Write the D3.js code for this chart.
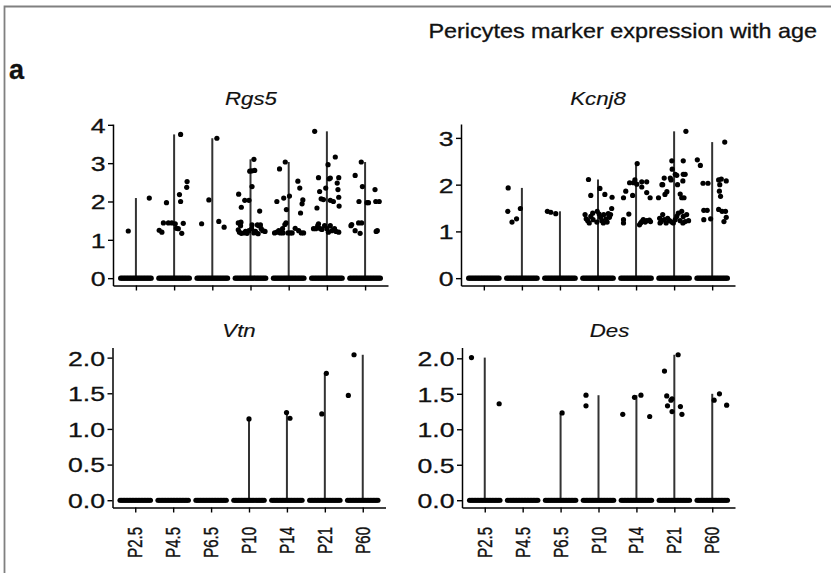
<!DOCTYPE html>
<html>
<head>
<meta charset="utf-8">
<script src="https://cdn.jsdelivr.net/npm/d3@7"></script>
<style>
  body { margin: 0; background: #fff; }
  svg { display: block; font-family: "Liberation Sans", Arial, sans-serif; }
  text { stroke: #111; stroke-width: 0.3px; fill: #111; }
</style>
</head>
<body>
<svg width="831" height="573"></svg>
<script>
// age groups on the x axis
var ages = ["P2.5", "P4.5", "P6.5", "P10", "P14", "P21", "P60"];
var genes = ["Rgs5", "Kcnj8", "Vtn", "Des"];

var ticksRgs5 = [0, 1, 2, 3, 4];
var ticksKcnj8 = [0, 1, 2, 3];
var ticksVtn = [0, 0.5, 1, 1.5, 2];
var ticksDes = [0, 0.5, 1, 1.5, 2];

// jitter of the many non-expressing cells (value 0), in band units
var zeroJitter = [-0.40, -0.36, -0.32, -0.28, -0.24, -0.20, -0.16, -0.12, -0.08, -0.04, 0,
                  0.04, 0.08, 0.12, 0.16, 0.20, 0.24, 0.28, 0.32, 0.36, 0.40];

// expressing cells: [jitter, expression] per age group
var rgs5 = [
  [[0.35, 2.09], [-0.20, 1.23]],
  [[0.17, 3.75], [0.34, 2.52], [0.33, 2.37], [0.14, 2.18], [0.17, 2.0], [-0.20, 1.97], [-0.28, 1.44],
   [-0.15, 1.44], [-0.06, 1.44], [-0.39, 1.25], [-0.32, 1.2], [0.03, 1.42], [0.06, 1.3], [0.11, 1.29],
   [0.24, 1.43], [0.20, 1.17]],
  [[0.12, 3.65], [-0.09, 2.04], [-0.28, 1.42], [0.17, 1.48], [0.31, 1.33]],
  [[0.09, 3.10], [-0.02, 2.79], [0.04, 2.80], [0.11, 2.81], [0.04, 2.39], [-0.31, 2.19], [-0.15, 2.03],
   [-0.04, 2.03], [-0.24, 1.85], [0.24, 1.75], [-0.25, 1.46], [-0.32, 1.44], [-0.26, 1.37],
   [-0.32, 1.26], [-0.29, 1.20], [-0.24, 1.17], [-0.17, 1.18], [-0.13, 1.22], [-0.09, 1.17],
   [-0.04, 1.24], [0.03, 1.29], [0.04, 1.39], [0.09, 1.18], [0.13, 1.22], [0.20, 1.16], [0.22, 1.37],
   [0.28, 1.29], [0.32, 1.24], [0.38, 1.22], [0.18, 1.39], [0.26, 1.39]],
  [[-0.09, 3.03], [-0.24, 2.85], [0.24, 2.53], [0.29, 2.35], [0.02, 2.14], [-0.13, 2.09], [-0.31, 2.0],
   [-0.06, 1.79], [0.37, 2.04], [0.35, 1.94], [0.31, 1.70], [0.17, 1.30],
   [-0.37, 1.18], [-0.31, 1.20], [-0.26, 1.24], [-0.22, 1.18], [-0.16, 1.29], [-0.10, 1.40],
   [-0.07, 1.44], [-0.02, 1.18], [0.04, 1.18], [0.09, 1.18], [0.26, 1.24], [0.33, 1.18], [0.39, 1.18],
   [-0.15, 1.18]],
  [[-0.32, 3.83], [0.22, 3.16], [0.03, 2.96], [0.09, 2.61], [0.06, 2.59], [-0.22, 2.62], [0.31, 2.62],
   [-0.03, 2.35], [0.27, 2.48], [0.29, 2.31], [-0.19, 2.26], [-0.15, 2.07], [-0.09, 2.05], [0.09, 2.03],
   [0.17, 2.0], [0.31, 2.11], [-0.26, 1.83], [0.32, 1.88],
   [-0.35, 1.29], [-0.29, 1.29], [-0.22, 1.42], [-0.17, 1.29], [-0.13, 1.27], [-0.06, 1.37], [0.0, 1.29],
   [0.04, 1.20], [0.09, 1.37], [0.13, 1.24], [0.20, 1.29], [0.24, 1.22], [0.31, 1.20], [-0.24, 1.37]],
  [[-0.10, 3.03], [-0.26, 2.68], [-0.07, 2.39], [-0.16, 2.0], [0.05, 1.97], [0.09, 1.97], [0.26, 2.31],
   [0.28, 2.0], [0.37, 2.0], [-0.35, 1.40], [-0.37, 1.37], [-0.17, 1.44], [-0.09, 1.44], [-0.26, 1.24],
   [-0.13, 1.17], [0.29, 1.22], [0.32, 1.24]]
];

var kcnj8 = [
  [],
  [[-0.36, 1.93], [-0.37, 1.43], [-0.26, 1.20], [-0.14, 1.27], [-0.04, 1.49]],
  [[-0.33, 1.43], [-0.24, 1.41], [-0.11, 1.38]],
  [[-0.25, 2.11], [0.05, 1.92], [-0.19, 1.77], [0.18, 1.79], [0.37, 1.73], [0.36, 1.49], [0.27, 1.38],
   [-0.34, 1.36], [-0.31, 1.27], [-0.27, 1.23], [-0.23, 1.18], [-0.19, 1.32], [-0.14, 1.39], [-0.02, 1.43],
   [0.03, 1.37], [0.07, 1.30], [0.10, 1.23], [0.14, 1.18], [0.21, 1.27], [0.24, 1.20], [0.30, 1.30],
   [0.33, 1.36], [-0.03, 1.20], [-0.13, 1.25], [0.15, 1.36]],
  [[0.03, 2.45], [-0.03, 2.1], [-0.07, 2.04], [0.02, 2.01], [-0.17, 2.04], [-0.27, 1.86], [-0.33, 1.72],
   [-0.09, 1.77], [0.15, 2.06], [0.28, 2.06], [0.15, 1.95], [0.28, 1.83], [0.37, 1.72], [-0.19, 1.37],
   [-0.33, 1.25], [-0.33, 1.18], [0.09, 1.14], [0.15, 1.21], [0.19, 1.25], [0.24, 1.20], [0.28, 1.23],
   [0.35, 1.24], [0.38, 1.21], [0.12, 1.18]],
  [[0.31, 3.14], [-0.06, 2.51], [0.24, 2.51], [-0.05, 2.33], [0.07, 2.2], [0.03, 2.22], [0.24, 2.22],
   [0.29, 2.22], [-0.26, 2.14], [-0.10, 2.14], [-0.08, 2.10], [-0.32, 2.0], [-0.30, 2.0], [0.09, 2.0],
   [0.23, 2.08], [-0.41, 1.72], [-0.19, 1.85], [-0.24, 1.79], [0.16, 1.80], [0.20, 1.72], [0.26, 1.72],
   [-0.38, 1.28], [-0.34, 1.21], [-0.30, 1.36], [-0.26, 1.25], [-0.21, 1.18], [-0.17, 1.28], [-0.12, 1.23],
   [-0.06, 1.20], [0.03, 1.25], [0.07, 1.32], [0.11, 1.39], [0.16, 1.23], [0.20, 1.43], [0.24, 1.32],
   [0.29, 1.21], [0.33, 1.36], [0.38, 1.23], [-0.37, 1.18], [-0.02, 1.18], [0.23, 1.18]],
  [[0.33, 2.91], [-0.39, 2.53], [-0.31, 2.41], [-0.24, 2.03], [-0.11, 2.03], [0.17, 2.1], [0.24, 2.12],
   [0.37, 2.08], [0.19, 1.86], [0.22, 1.75], [-0.22, 1.45], [-0.13, 1.45], [-0.22, 1.25], [-0.04, 1.27],
   [0.17, 1.47], [0.26, 1.43], [0.35, 1.43], [0.37, 1.30], [0.31, 1.21], [0.20, 2.0]]
];

var vtn = [
  [], [], [],
  [[0.0, 1.14]],
  [[-0.01, 1.23], [0.08, 1.15]],
  [[-0.08, 1.21], [0.04, 1.78]],
  [[-0.38, 1.47], [-0.23, 2.04]]
];

var des = [
  [[-0.35, 2.01], [0.38, 1.36]],
  [],
  [[0.04, 1.23]],
  [[-0.33, 1.48], [-0.33, 1.33]],
  [[-0.36, 1.21], [-0.05, 1.45], [0.12, 1.48], [0.35, 1.18]],
  [[-0.26, 1.82], [0.10, 2.05], [-0.20, 1.47], [-0.18, 1.33], [-0.09, 1.41], [-0.06, 1.43], [-0.06, 1.25],
   [0.16, 1.32], [0.20, 1.21]],
  [[0.19, 1.50], [0.05, 1.41], [0.38, 1.34]]
];

var geneData = [rgs5, kcnj8, vtn, des];
var geneTicks = [ticksRgs5, ticksKcnj8, ticksVtn, ticksDes];

// layout
var panels = [
  { x: 113, y: 124, w: 275, h: 161.5, title: [251, 105], labels: false, fmt: d3.format("d") },
  { x: 461, y: 124, w: 274, h: 161.5, title: [598, 105], labels: false, fmt: d3.format("d") },
  { x: 112.5, y: 347.5, w: 273, h: 160, title: [239, 337], labels: true, fmt: d3.format(".1f") },
  { x: 462, y: 347.5, w: 273, h: 160, title: [609.5, 337], labels: true, fmt: d3.format(".1f") }
];
var sx = 1.3; // the figure is stretched horizontally

var svg = d3.select("svg");

// frame
svg.append("path")
  .attr("d", "M4.5,573 V6.5 H831")
  .attr("fill", "none")
  .attr("stroke", "#808080")
  .attr("stroke-width", 1.8);

svg.append("text")
  .attr("transform", "translate(817,38) scale(1.17,1)")
  .attr("text-anchor", "end")
  .style("font-size", "20px")
  .text("Pericytes marker expression with age");

svg.append("text")
  .attr("transform", "translate(9,79) scale(1.0,1)")
  .style("font-size", "27px")
  .style("font-weight", "bold")
  .text("a");

genes.forEach(function (gene, gi) {
  var p = panels[gi];
  var groups = geneData[gi];
  var maxV = d3.max(groups, function (g) { return d3.max(g, function (d) { return d[1]; }) || 0; });

  var xScale = d3.scalePoint()
    .domain(ages)
    .range([p.x, p.x + p.w])
    .padding(0.6);
  var step = xScale.step();

  var yScale = d3.scaleLinear()
    .domain([-0.05 * maxV, 1.05 * maxV])
    .range([p.y + p.h, p.y]);

  var g = svg.append("g");

  // violins (collapsed to a line from 0 to the group max)
  g.selectAll(".vln")
    .data(groups.map(function (d, i) { return { age: ages[i], max: d3.max(d, function (e) { return e[1]; }) || 0 }; })
      .filter(function (d) { return d.max > 0; }))
    .enter().append("line")
      .attr("x1", function (d) { return xScale(d.age); })
      .attr("x2", function (d) { return xScale(d.age); })
      .attr("y1", yScale(0))
      .attr("y2", function (d) { return yScale(d.max); })
      .attr("stroke", "#333")
      .attr("stroke-width", 2);

  // points
  var pts = [];
  ages.forEach(function (age, i) {
    zeroJitter.forEach(function (j) { pts.push({ age: age, j: j, v: 0 }); });
    groups[i].forEach(function (d) { pts.push({ age: age, j: d[0], v: d[1] }); });
  });
  g.selectAll(".pt")
    .data(pts)
    .enter().append("circle")
      .attr("cx", function (d) { return xScale(d.age) + d.j * step; })
      .attr("cy", function (d) { return yScale(d.v); })
      .attr("r", 2.6)
      .attr("fill", "#000");

  // axes
  var yAxis = g.append("g")
    .attr("transform", "translate(" + p.x + ",0)")
    .call(d3.axisLeft(yScale).tickValues(geneTicks[gi]).tickFormat(p.fmt).tickSize(5).tickSizeOuter(0));
  yAxis.select(".domain").attr("stroke-width", 1.5);
  yAxis.selectAll(".tick line").attr("stroke-width", 1.4);
  yAxis.selectAll(".tick text")
    .attr("x", null)
    .attr("dy", "0.36em")
    .attr("transform", "translate(-7.5,0) scale(" + sx + ",1)")
    .style("font-size", "20.5px")
    .style("font-family", "'Liberation Sans', Arial, sans-serif");

  var xAxis = g.append("g")
    .attr("transform", "translate(0," + (p.y + p.h) + ")")
    .call(d3.axisBottom(xScale).tickSize(5).tickSizeOuter(0));
  xAxis.select(".domain").attr("stroke-width", 1.5);
  xAxis.selectAll(".tick line").attr("stroke-width", 1.4);
  xAxis.selectAll(".tick text").remove();

  if (p.labels) {
    g.selectAll(".xlab")
      .data(ages)
      .enter().append("text")
        .attr("transform", function (d) {
          return "translate(" + xScale(d) + "," + (p.y + p.h + 19.5) + ") scale(1.4,1) rotate(-90)";
        })
        .attr("text-anchor", "end")
        .attr("dy", 5)
        .style("font-size", "15px")
        .text(function (d) { return d; });
  }

  g.append("text")
    .attr("transform", "translate(" + p.title[0] + "," + p.title[1] + ") scale(1.27,1)")
    .attr("text-anchor", "middle")
    .style("font-size", "17.5px")
    .style("font-style", "italic")
    .style("stroke-width", "0.15px")
    .text(gene);
});
</script>
</body>
</html>
